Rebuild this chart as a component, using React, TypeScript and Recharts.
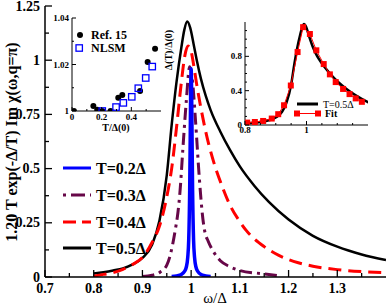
import { LineChart, Line, XAxis, YAxis, ScatterChart, Scatter } from 'recharts';

// main panel: omega / Delta against scaled Im chi
const blackW = [0.8, 0.82, 0.84, 0.86, 0.88, 0.9, 0.92, 0.935, 0.95, 0.96, 0.97, 0.98, 0.986, 0.992, 0.998, 1.005, 1.012, 1.02, 1.03, 1.04, 1.06, 1.08, 1.1, 1.13, 1.16, 1.2, 1.25, 1.3, 1.35, 1.4];
const blackV = [0.016, 0.022, 0.03, 0.04, 0.058, 0.088, 0.15, 0.26, 0.47, 0.7, 0.9, 1.06, 1.14, 1.178, 1.15, 1.075, 0.995, 0.915, 0.835, 0.77, 0.67, 0.585, 0.51, 0.42, 0.345, 0.265, 0.19, 0.14, 0.104, 0.078];

const redW = [0.8, 0.82, 0.84, 0.86, 0.88, 0.9, 0.92, 0.935, 0.95, 0.96, 0.97, 0.98, 0.987, 0.9935, 1.0, 1.005, 1.012, 1.02, 1.03, 1.045, 1.06, 1.08, 1.1, 1.113, 1.15, 1.18, 1.22, 1.25, 1.3, 1.35, 1.4];
const redV = [0.004, 0.012, 0.02, 0.035, 0.058, 0.09, 0.16, 0.235, 0.37, 0.5, 0.69, 0.9, 1.02, 1.065, 1.04, 0.98, 0.88, 0.78, 0.67, 0.54, 0.44, 0.33, 0.255, 0.215, 0.14, 0.1, 0.066, 0.05, 0.034, 0.025, 0.02];

const purpleW = [0.9, 0.92, 0.936, 0.95, 0.956, 0.962, 0.968, 0.973, 0.977, 0.983, 0.99, 0.997, 1.003, 1.009, 1.017, 1.024, 1.028, 1.035, 1.045, 1.06, 1.079, 1.1, 1.147, 1.18];
const purpleV = [0.002, 0.008, 0.022, 0.055, 0.092, 0.15, 0.225, 0.3, 0.39, 0.59, 0.81, 0.97, 0.9, 0.72, 0.45, 0.27, 0.21, 0.165, 0.12, 0.075, 0.048, 0.03, 0.015, 0.006];

const blueW = [0.96, 0.97, 0.98, 0.986, 0.99, 0.993, 0.995, 0.997, 0.998, 0.999, 1.0, 1.001, 1.002, 1.003, 1.005, 1.007, 1.01, 1.014, 1.02, 1.03, 1.04];
const blueV = [0.002, 0.005, 0.012, 0.025, 0.045, 0.09, 0.17, 0.4, 0.62, 0.85, 0.96, 0.85, 0.62, 0.4, 0.17, 0.09, 0.045, 0.025, 0.012, 0.005, 0.002];

const legendLabels = ['T=0.2Δ', 'T=0.3Δ', 'T=0.4Δ', 'T=0.5Δ'];

const mainXMajor = [0.7, 0.8, 0.9, 1, 1.1, 1.2, 1.3];
const mainXMinor = [0.75, 0.85, 0.95, 1.05, 1.15, 1.25, 1.35];
const mainYMajor = [0, 0.25, 0.5, 0.75, 1, 1.25];
const mainYMinor = [0.125, 0.375, 0.625, 0.875, 1.125];

// left inset: gap ratio vs temperature
const ref15T = [0.013, 0.144, 0.17, 0.204, 0.26, 0.312, 0.339, 0.459, 0.51, 0.56];
const ref15V = [1.0, 1.0021, 1.0005, 1.0, 1.0, 1.0057, 1.0069, 1.0086, 1.0211, 1.0268];
const nlsmT = [0.204, 0.297, 0.346, 0.403, 0.447, 0.497, 0.541];
const nlsmV = [1.0, 1.0017, 1.0035, 1.0061, 1.0098, 1.0142, 1.0191];

const in1XMajor = [0, 0.2, 0.4];
const in1XMinor = [0.1, 0.3, 0.5];
const in1YMajor = [1, 1.02, 1.04];
const in1YMinor = [1.01, 1.03];

// right inset: T=0.5 curve with fit
const fitW = [0.807, 0.832, 0.859, 0.887, 0.908, 0.927, 0.949, 0.971, 0.989, 1.011, 1.032, 1.056, 1.076, 1.095, 1.119, 1.14, 1.16, 1.18];
const fitV = [0.028, 0.035, 0.047, 0.075, 0.126, 0.23, 0.46, 0.85, 1.14, 1.06, 0.87, 0.71, 0.59, 0.5, 0.42, 0.36, 0.31, 0.27];

const in2XMajor = [0.8, 1];
const in2XMinor = [0.85, 0.9, 0.95, 1.05, 1.1, 1.15];
const in2YMajor = [0, 0.4, 0.8];
const in2YMinor = [0.1, 0.2, 0.3, 0.5, 0.6, 0.7, 0.9, 1.0, 1.1];

const RED = '#ff0000';
const BLUE = '#0000ff';
const MAROON = '#670748';
const SERIF = '"Liberation Serif", "Times New Roman", serif';

const pts = (ws: number[], vs: number[]) => ws.map((w, i) => ({ w, v: vs[i] }));
const tpts = (ts: number[], vs: number[]) => ts.map((t, i) => ({ t, v: vs[i] }));

type Side = 'left' | 'right' | 'top' | 'bottom';
interface TickCfg {
  side: Side;
  major: number[];
  labels: number[];
  big: number;
  small: number;
  font: number;
  off: number;
  width: number;
}

function makeTick(cfg: TickCfg) {
  return function Tick(props: any) {
    const { x, y, payload } = props;
    const v = payload.value;
    const has = (arr: number[]) => arr.some((m) => Math.abs(m - v) < 1e-6);
    const len = has(cfg.major) ? cfg.big : cfg.small;
    const dx = cfg.side === 'left' ? len : cfg.side === 'right' ? -len : 0;
    const dy = cfg.side === 'bottom' ? -len : cfg.side === 'top' ? len : 0;
    let label = null;
    if (has(cfg.labels)) {
      const common = {
        fontFamily: SERIF,
        fontWeight: 700,
        fontSize: cfg.font,
        fill: '#000',
        dominantBaseline: 'central' as const,
      };
      if (cfg.side === 'left') {
        label = (
          <text x={x - cfg.off} y={y} textAnchor="end" {...common}>
            {String(v)}
          </text>
        );
      } else if (cfg.side === 'bottom') {
        label = (
          <text x={x} y={y + cfg.off} textAnchor="middle" {...common}>
            {String(v)}
          </text>
        );
      }
    }
    return (
      <g>
        <line x1={x} y1={y} x2={x + dx} y2={y + dy} stroke="#000" strokeWidth={cfg.width} />
        {label}
      </g>
    );
  };
}

const axisCommon = {
  type: 'number' as const,
  tickLine: false,
  tickSize: 0,
  tickMargin: 0,
  interval: 0 as const,
  allowDataOverflow: true,
};

function SquareDot(props: any) {
  const { cx, cy } = props;
  if (cx == null || cy == null) return null;
  return <rect x={cx - 3} y={cy - 3} width={6} height={6} fill={RED} />;
}

function OpenSquare(props: any) {
  const { cx, cy } = props;
  return <rect x={cx - 3.2} y={cy - 3.2} width={6.4} height={6.4} fill="none" stroke={BLUE} strokeWidth={1.3} />;
}

function FilledCircle(props: any) {
  const { cx, cy } = props;
  return <circle cx={cx} cy={cy} r={3} fill="#000" />;
}

function MainChart() {
  const frame = { stroke: '#000', strokeWidth: 1.5 };
  return (
    <LineChart width={388} height={305} margin={{ top: 6, right: 2, bottom: 0, left: 0 }}>
      <XAxis
        xAxisId="b"
        dataKey="w"
        domain={[0.7, 1.4]}
        ticks={[...mainXMajor, ...mainXMinor]}
        height={28}
        axisLine={frame}
        tick={makeTick({ side: 'bottom', major: mainXMajor, labels: mainXMajor, big: 7, small: 4, font: 14, off: 11, width: 1.3 })}
        {...axisCommon}
      />
      <XAxis
        xAxisId="t"
        orientation="top"
        dataKey="w"
        domain={[0.7, 1.4]}
        ticks={mainXMajor}
        height={0}
        axisLine={frame}
        tick={makeTick({ side: 'top', major: mainXMajor, labels: [], big: 7, small: 4, font: 14, off: 0, width: 1.3 })}
        {...axisCommon}
      />
      <YAxis
        yAxisId="l"
        domain={[0, 1.25]}
        ticks={[...mainYMajor, ...mainYMinor]}
        width={45}
        axisLine={frame}
        tick={makeTick({ side: 'left', major: mainYMajor, labels: mainYMajor, big: 7, small: 4, font: 14, off: 5, width: 1.3 })}
        {...axisCommon}
      />
      <YAxis
        yAxisId="r"
        orientation="right"
        domain={[0, 1.25]}
        ticks={[...mainYMajor, ...mainYMinor]}
        width={0}
        axisLine={frame}
        tick={makeTick({ side: 'right', major: mainYMajor, labels: [], big: 7, small: 4, font: 14, off: 0, width: 1.3 })}
        {...axisCommon}
      />
      <Line xAxisId="b" yAxisId="l" data={pts(blackW, blackV)} dataKey="v" type="monotone" stroke="#000" strokeWidth={2.5} dot={false} isAnimationActive={false} />
      <Line xAxisId="b" yAxisId="l" data={pts(redW, redV)} dataKey="v" type="monotone" stroke={RED} strokeWidth={3} strokeDasharray="13 7" dot={false} isAnimationActive={false} />
      <Line xAxisId="b" yAxisId="l" data={pts(purpleW, purpleV)} dataKey="v" type="monotone" stroke={MAROON} strokeWidth={3} strokeDasharray="12 5 3 5" dot={false} isAnimationActive={false} />
      <Line xAxisId="b" yAxisId="l" data={pts(blueW, blueV)} dataKey="v" type="monotone" stroke={BLUE} strokeWidth={3.5} dot={false} isAnimationActive={false} />
    </LineChart>
  );
}

function GapInset() {
  const frame = { stroke: '#000', strokeWidth: 1 };
  return (
    <ScatterChart width={135} height={128} margin={{ top: 10, right: 14, bottom: 0, left: 0 }}>
      <XAxis
        xAxisId="b"
        dataKey="t"
        domain={[0, 0.6]}
        ticks={[...in1XMajor, ...in1XMinor]}
        height={25}
        axisLine={frame}
        tick={makeTick({ side: 'bottom', major: in1XMajor, labels: in1XMajor, big: 4, small: 2, font: 9, off: 6, width: 1 })}
        {...axisCommon}
      />
      <XAxis
        xAxisId="t"
        orientation="top"
        dataKey="t"
        domain={[0, 0.6]}
        ticks={[...in1XMajor, ...in1XMinor]}
        height={0}
        axisLine={frame}
        tick={makeTick({ side: 'top', major: in1XMajor, labels: [], big: 4, small: 2, font: 9, off: 0, width: 1 })}
        {...axisCommon}
      />
      <YAxis
        yAxisId="l"
        dataKey="v"
        domain={[1, 1.04]}
        ticks={[...in1YMajor, ...in1YMinor]}
        width={32}
        axisLine={frame}
        tick={makeTick({ side: 'left', major: in1YMajor, labels: in1YMajor, big: 4, small: 2, font: 9, off: 3, width: 1 })}
        {...axisCommon}
      />
      <YAxis
        yAxisId="r"
        orientation="right"
        dataKey="v"
        domain={[1, 1.04]}
        ticks={[...in1YMajor, ...in1YMinor]}
        width={0}
        axisLine={frame}
        tick={makeTick({ side: 'right', major: in1YMajor, labels: [], big: 4, small: 2, font: 9, off: 0, width: 1 })}
        {...axisCommon}
      />
      <Scatter xAxisId="b" yAxisId="l" data={tpts(ref15T, ref15V)} shape={FilledCircle} isAnimationActive={false} />
      <Scatter xAxisId="b" yAxisId="l" data={tpts(nlsmT, nlsmV)} shape={OpenSquare} isAnimationActive={false} />
    </ScatterChart>
  );
}

function FitInset() {
  const frame = { stroke: '#000', strokeWidth: 1 };
  return (
    <LineChart width={157} height={127} margin={{ top: 10, right: 4, bottom: 0, left: 0 }}>
      <XAxis
        xAxisId="b"
        dataKey="w"
        domain={[0.8, 1.2]}
        ticks={[...in2XMajor, ...in2XMinor]}
        height={14}
        axisLine={frame}
        tick={makeTick({ side: 'bottom', major: in2XMajor, labels: in2XMajor, big: 4, small: 2, font: 9, off: 5, width: 1 })}
        {...axisCommon}
      />
      <XAxis
        xAxisId="t"
        orientation="top"
        dataKey="w"
        domain={[0.8, 1.2]}
        ticks={[...in2XMajor, ...in2XMinor]}
        height={0}
        axisLine={frame}
        tick={makeTick({ side: 'top', major: in2XMajor, labels: [], big: 4, small: 2, font: 9, off: 0, width: 1 })}
        {...axisCommon}
      />
      <YAxis
        yAxisId="l"
        domain={[0, 1.2]}
        ticks={[...in2YMajor, ...in2YMinor]}
        width={30}
        axisLine={frame}
        tick={makeTick({ side: 'left', major: in2YMajor, labels: in2YMajor, big: 4, small: 2, font: 9, off: 3, width: 1 })}
        {...axisCommon}
      />
      <YAxis
        yAxisId="r"
        orientation="right"
        domain={[0, 1.2]}
        ticks={[...in2YMajor, ...in2YMinor]}
        width={0}
        axisLine={frame}
        tick={makeTick({ side: 'right', major: in2YMajor, labels: [], big: 4, small: 2, font: 9, off: 0, width: 1 })}
        {...axisCommon}
      />
      <Line xAxisId="b" yAxisId="l" data={pts(blackW, blackV)} dataKey="v" type="monotone" stroke="#000" strokeWidth={2.5} dot={false} isAnimationActive={false} />
      <Line xAxisId="b" yAxisId="l" data={pts(fitW, fitV)} dataKey="v" type="linear" stroke={RED} strokeWidth={1} dot={<SquareDot />} isAnimationActive={false} />
    </LineChart>
  );
}

function Overlay() {
  const bold = { fontFamily: SERIF, fontWeight: 700, fill: '#000' };
  const rows = [
    { y: 168, stroke: BLUE, dash: undefined },
    { y: 195, stroke: MAROON, dash: '3 5 14 5' },
    { y: 222, stroke: RED, dash: '13 6' },
    { y: 248, stroke: '#000', dash: undefined },
  ];
  return (
    <svg width={388} height={305} style={{ position: 'absolute', left: 0, top: 0, pointerEvents: 'none' }}>
      <text transform="translate(11,142) rotate(-90)" textAnchor="middle" dominantBaseline="central" fontSize={16} {...bold}>
        1.20 T exp(-Δ/T)  Im χ(ω,q=π)
      </text>
      <text x={215} y={298} textAnchor="middle" dominantBaseline="central" fontSize={15} fontFamily={SERIF} fill="#000">
        ω/Δ
      </text>
      {rows.map((r, i) => (
        <g key={legendLabels[i]}>
          <line x1={63} x2={91} y1={r.y} y2={r.y} stroke={r.stroke} strokeWidth={3} strokeDasharray={r.dash} />
          <text x={96} y={r.y} dominantBaseline="central" fontSize={16} {...bold}>
            {legendLabels[i]}
          </text>
        </g>
      ))}

      <circle cx={80} cy={35} r={3} fill="#000" />
      <text x={91} y={35} dominantBaseline="central" fontSize={12} {...bold}>Ref. 15</text>
      <rect x={76} y={44.8} width={6.4} height={6.4} fill="none" stroke={BLUE} strokeWidth={1.3} />
      <text x={91} y={48} dominantBaseline="central" fontSize={12} {...bold}>NLSM</text>
      <text x={116} y={127} textAnchor="middle" dominantBaseline="central" fontSize={10} {...bold}>T/Δ(0)</text>
      <text transform="translate(168,50) rotate(-90)" textAnchor="middle" dominantBaseline="central" fontSize={10} {...bold}>
        Δ(T)/Δ(0)
      </text>

      <line x1={297} x2={318} y1={104} y2={104} stroke="#000" strokeWidth={3} />
      <text x={323} y={104} dominantBaseline="central" fontSize={10} fontFamily={SERIF} fill="#000">T=0.5Δ</text>
      <line x1={297} x2={318} y1={113.5} y2={113.5} stroke={RED} strokeWidth={1} />
      <rect x={294} y={110.5} width={6} height={6} fill={RED} />
      <rect x={315} y={110.5} width={6} height={6} fill={RED} />
      <text x={325} y={113.5} dominantBaseline="central" fontSize={10} {...bold}>Fit</text>
    </svg>
  );
}

export default function App() {
  return (
    <div style={{ position: 'absolute', left: 0, top: 0, width: 388, height: 305, background: '#fff', overflow: 'hidden' }}>
      <div style={{ position: 'absolute', left: 0, top: 0 }}>
        <MainChart />
      </div>
      <div style={{ position: 'absolute', left: 40, top: 8 }}>
        <GapInset />
      </div>
      <div style={{ position: 'absolute', left: 215, top: 12 }}>
        <FitInset />
      </div>
      <Overlay />
    </div>
  );
}
